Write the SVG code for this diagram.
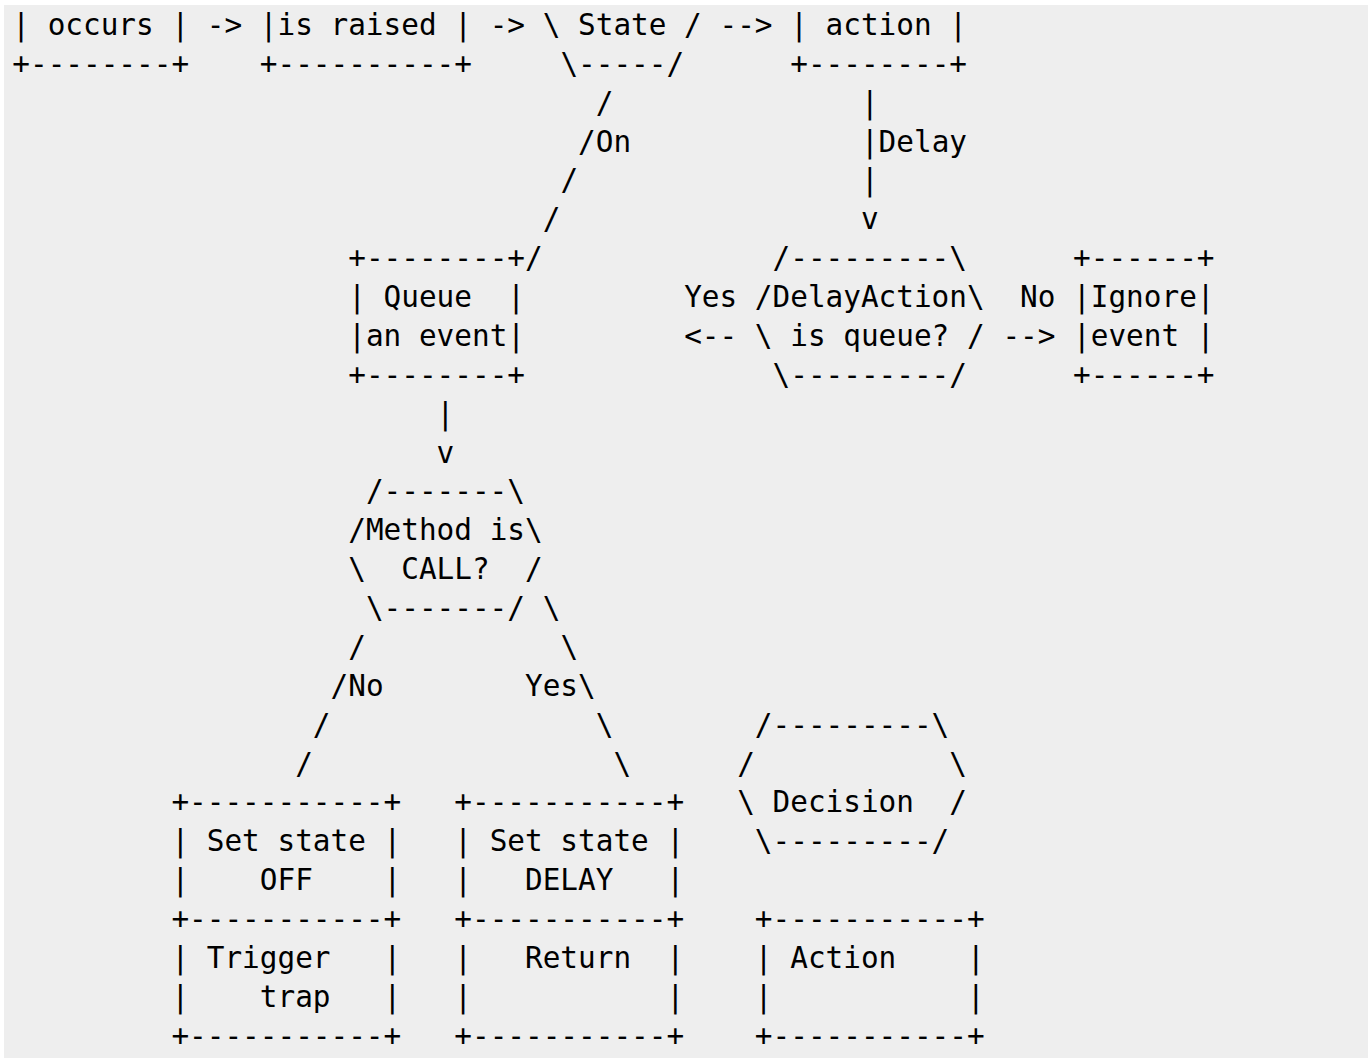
<svg xmlns="http://www.w3.org/2000/svg" width="1368" height="1061" viewBox="0 0 1368 1061">
<style>
text{font-family:"DejaVu Sans Mono","Liberation Mono",monospace;font-size:29.36px;fill:#000}
</style>
<rect x="0" y="0" width="1368" height="1061" fill="#ffffff"/>
<rect x="4" y="5" width="1364" height="1053" fill="#eeeeee"/>
<g transform="translate(2,0)">
<g id="n_occurs">
<text x="10.3" y="35">| occurs |</text>
<text x="10.3" y="73.87">+--------+</text>
</g>
<g id="n_raised">
<text x="257.82" y="35">|is raised |</text>
<text x="257.82" y="73.87">+----------+</text>
</g>
<g id="n_state">
<text x="540.7" y="35">\ State /</text>
<text x="558.38" y="73.87">\-----/</text>
</g>
<g id="n_action_top">
<text x="788.22" y="35">| action |</text>
<text x="788.22" y="73.87">+--------+</text>
</g>
<g id="n_queue">
<text x="346.22" y="268.22">+--------+</text>
<text x="346.22" y="307.09">| Queue</text><text x="505.34" y="307.09">|</text>
<text x="346.22" y="345.96">|an event|</text>
<text x="346.22" y="384.83">+--------+</text>
</g>
<g id="n_delay_decision">
<text x="770.54" y="268.22">/---------\</text>
<text x="752.86" y="307.09">/DelayAction\</text>
<text x="752.86" y="345.96">\ is queue? /</text>
<text x="770.54" y="384.83">\---------/</text>
</g>
<g id="n_ignore">
<text x="1071.1" y="268.22">+------+</text>
<text x="1071.1" y="307.09">|Ignore|</text>
<text x="1071.1" y="345.96">|event |</text>
<text x="1071.1" y="384.83">+------+</text>
</g>
<g id="n_method">
<text x="363.9" y="501.44">/-------\</text>
<text x="346.22" y="540.31">/Method is\</text>
<text x="346.22" y="579.18">\</text><text x="399.26" y="579.18">CALL?</text><text x="523.02" y="579.18">/</text>
<text x="363.9" y="618.05">\-------/</text>
</g>
<g id="n_set_off">
<text x="169.42" y="812.4">+-----------+</text>
<text x="169.42" y="851.27">| Set state |</text>
<text x="169.42" y="890.14">|</text><text x="257.82" y="890.14">OFF</text><text x="381.58" y="890.14">|</text>
<text x="169.42" y="929.01">+-----------+</text>
</g>
<g id="n_trigger_trap">
<text x="169.42" y="967.88">| Trigger</text><text x="381.58" y="967.88">|</text>
<text x="169.42" y="1006.75">|</text><text x="257.82" y="1006.75">trap</text><text x="381.58" y="1006.75">|</text>
<text x="169.42" y="1045.62">+-----------+</text>
</g>
<g id="n_set_delay">
<text x="452.3" y="812.4">+-----------+</text>
<text x="452.3" y="851.27">| Set state |</text>
<text x="452.3" y="890.14">|</text><text x="523.02" y="890.14">DELAY</text><text x="664.46" y="890.14">|</text>
<text x="452.3" y="929.01">+-----------+</text>
</g>
<g id="n_return">
<text x="452.3" y="967.88">|</text><text x="523.02" y="967.88">Return</text><text x="664.46" y="967.88">|</text>
<text x="452.3" y="1006.75">|</text><text x="664.46" y="1006.75">|</text>
<text x="452.3" y="1045.62">+-----------+</text>
</g>
<g id="n_decision_legend">
<text x="752.86" y="734.66">/---------\</text>
<text x="735.18" y="773.53">/</text><text x="947.34" y="773.53">\</text>
<text x="735.18" y="812.4">\ Decision</text><text x="947.34" y="812.4">/</text>
<text x="752.86" y="851.27">\---------/</text>
</g>
<g id="n_action_legend">
<text x="752.86" y="929.01">+-----------+</text>
<text x="752.86" y="967.88">| Action</text><text x="965.02" y="967.88">|</text>
<text x="752.86" y="1006.75">|</text><text x="965.02" y="1006.75">|</text>
<text x="752.86" y="1045.62">+-----------+</text>
</g>
<g id="connectors">
<text x="204.78" y="35">-&gt;</text>
<text x="487.66" y="35">-&gt;</text>
<text x="717.5" y="35">--&gt;</text>
<text x="593.74" y="112.74">/</text>
<text x="576.06" y="151.61">/On</text>
<text x="558.38" y="190.48">/</text>
<text x="540.7" y="229.35">/</text>
<text x="523.02" y="268.22">/</text>
<text x="858.94" y="112.74">|</text>
<text x="858.94" y="151.61">|Delay</text>
<text x="858.94" y="190.48">|</text>
<text x="858.94" y="229.35">v</text>
<text x="682.14" y="307.09">Yes</text>
<text x="682.14" y="345.96">&lt;--</text>
<text x="1018.06" y="307.09">No</text>
<text x="1000.38" y="345.96">--&gt;</text>
<text x="434.62" y="423.7">|</text>
<text x="434.62" y="462.57">v</text>
<text x="540.7" y="618.05">\</text>
<text x="346.22" y="656.92">/</text>
<text x="558.38" y="656.92">\</text>
<text x="328.54" y="695.79">/No</text>
<text x="523.02" y="695.79">Yes\</text>
<text x="310.86" y="734.66">/</text>
<text x="593.74" y="734.66">\</text>
<text x="293.18" y="773.53">/</text>
<text x="611.42" y="773.53">\</text>
</g>
</g>
</svg>
